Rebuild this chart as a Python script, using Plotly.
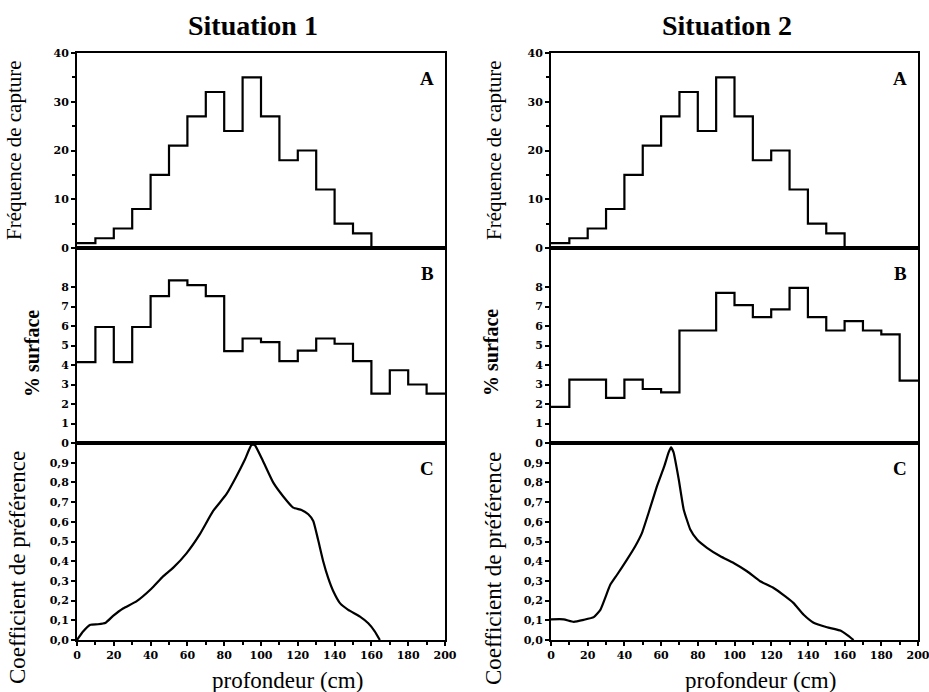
import plotly.graph_objects as go

# ---------------- data ----------------
depth_edges = list(range(0, 201, 10))
capture_freq = [1, 2, 4, 8, 15, 21, 27, 32, 24, 35, 27, 18, 20, 12, 5, 3, 0, 0, 0, 0]
surface_s1 = [4.15, 5.95, 4.15, 5.95, 7.53, 8.34, 8.1, 7.53, 4.71, 5.36,
              5.17, 4.2, 4.74, 5.36, 5.09, 4.2, 2.53, 3.73, 3.0, 2.53]
surface_s2 = [1.85, 3.25, 3.25, 2.31, 3.25, 2.77, 2.6, 5.77, 5.77, 7.7,
              7.07, 6.46, 6.85, 7.96, 6.46, 5.77, 6.25, 5.77, 5.57, 3.2]
pref_s1_depth = [0, 3.3, 7.3, 11.4, 15.6, 19.6, 25, 32.3, 40.4, 46.8, 52.2, 59.5, 66.7, 74,
                 81.2, 86.6, 91.2, 94.8, 96.6, 101, 106.6, 112, 117.5, 122, 125.7, 128.4,
                 131, 133.8, 136.5, 139.3, 142.9, 147.4, 153.8, 158.3, 161.9, 164.6]
pref_s1_value = [0, 0.043, 0.077, 0.08, 0.088, 0.122, 0.16, 0.196, 0.26, 0.323, 0.366, 0.44,
                 0.536, 0.655, 0.74, 0.83, 0.915, 0.99, 0.99, 0.91, 0.8, 0.73, 0.672, 0.66,
                 0.638, 0.604, 0.51, 0.40, 0.315, 0.247, 0.187, 0.153, 0.119, 0.085, 0.043,
                 0.0]
pref_s2_depth = [0, 6.9, 12.4, 17.8, 23.3, 26.9, 32.3, 35.9, 41.4, 45.9, 49.6, 53.2, 57.8,
                 61.8, 64.1, 65.4, 66.8, 69.6, 72.3, 75.9, 79.6, 85, 92.3, 99.5, 106.8, 114,
                 121.3, 127.7, 132.2, 137.7, 143.1, 150.4, 157.7, 161.3, 164.9]
pref_s2_value = [0.105, 0.105, 0.092, 0.102, 0.116, 0.153, 0.28, 0.33, 0.408, 0.476, 0.544,
                 0.646, 0.782, 0.884, 0.952, 0.978, 0.952, 0.816, 0.663, 0.561, 0.51, 0.468,
                 0.425, 0.391, 0.349, 0.298, 0.264, 0.221, 0.187, 0.128, 0.088, 0.065, 0.048,
                 0.026, 0.0]

freq_ticks = [0, 10, 20, 30, 40]
surf_ticks = [0, 1, 2, 3, 4, 5, 6, 7, 8]
coef_ticks = [0, 0.1, 0.2, 0.3, 0.4, 0.5, 0.6, 0.7, 0.8, 0.9]
coef_ticktext = ["0,0", "0,1", "0,2", "0,3", "0,4", "0,5", "0,6", "0,7", "0,8", "0,9"]
depth_ticks = list(range(0, 201, 20))

titles = ["Situation 1", "Situation 2"]
panel_letters = ["A", "B", "C"]
ytitles = ["Fréquence de capture", "% surface", "Coefficient de préférence"]
xtitle = "profondeur (cm)"

# ---------------- layout geometry ----------------
W, H = 929, 692
def fx(px):
    return px / W
def fy(py):
    return 1 - py / H

col_x = [(77, 445), (551, 918)]
row_y = [(53, 248), (248, 443), (443, 640)]
# y-title horizontal centres (px) per column / row
ytitle_x = [[14, 32, 17], [494, 491, 493]]
ytitle_size = [21, 20, 23]
ytitle_weight = ["normal", "bold", "normal"]
ytitle_y = [150, 353, 568]

fig = go.Figure()
serif = "Liberation Serif"
tickfont = dict(family="DejaVu Serif", size=11, color="black", weight="bold")

def step_xy(vals):
    return depth_edges[:-1] + [depth_edges[-1]], vals + [vals[-1]]

series = [
    [step_xy(capture_freq), step_xy(surface_s1), (pref_s1_depth, pref_s1_value)],
    [step_xy(capture_freq), step_xy(surface_s2), (pref_s2_depth, pref_s2_value)],
]

layout = dict(
    width=W, height=H, margin=dict(l=0, r=0, t=0, b=0, autoexpand=False),
    paper_bgcolor="white", plot_bgcolor="white", showlegend=False,
    template="none",
)
annotations = []

idx = 0
for c in range(2):
    for r in range(3):
        idx += 1
        sfx = "" if idx == 1 else str(idx)
        xs, ys = series[c][r]
        fig.add_trace(go.Scatter(
            x=xs, y=ys, mode="lines",
            line=dict(color="black", width=2.2, shape="hv" if r < 2 else "spline", smoothing=0.4),
            xaxis="x" + sfx, yaxis="y" + sfx, hoverinfo="skip"))
        xa = dict(domain=[fx(col_x[c][0]), fx(col_x[c][1])], range=[0, 200],
                  anchor="y" + sfx, showgrid=False, zeroline=False, automargin=False,
                  showline=True, linecolor="black", linewidth=2, mirror=True,
                  fixedrange=True, ticklabeloverflow="allow")
        if r == 2:
            xa.update(tickmode="array", tickvals=depth_ticks, ticks="outside",
                      ticklen=4, tickwidth=2, tickcolor="black", tickfont=tickfont,
                      minor=dict(tickvals=list(range(10, 200, 20)), ticks="outside",
                                 ticklen=3, tickwidth=1.5, tickcolor="black"))
        else:
            xa.update(showticklabels=False, ticks="")
        ya = dict(domain=[fy(row_y[r][1]), fy(row_y[r][0])], anchor="x" + sfx,
                  showgrid=False, zeroline=False, showline=True, linecolor="black",
                  linewidth=2, mirror=True, ticks="outside", ticklen=4, tickwidth=2,
                  tickcolor="black", tickfont=tickfont, fixedrange=True, automargin=False,
                  ticklabeloverflow="allow")
        if r == 0:
            ya.update(range=[0, 40], tickvals=freq_ticks,
                      minor=dict(tickvals=[5, 15, 25, 35], ticks="outside", ticklen=3,
                                 tickwidth=1.5, tickcolor="black"))
        elif r == 1:
            ya.update(range=[0, 10], tickvals=surf_ticks)
        else:
            ya.update(range=[0, 1], tickvals=coef_ticks, ticktext=coef_ticktext)
        layout["xaxis" + sfx] = xa
        layout["yaxis" + sfx] = ya

        # panel letter
        annotations.append(dict(
            text=panel_letters[r], xref="paper", yref="paper",
            x=fx(col_x[c][1] - 18), y=fy(row_y[r][0] + 25),
            xanchor="center", yanchor="middle",
            showarrow=False, font=dict(family=serif, size=19, color="black", weight="bold")))
        # y-axis title
        annotations.append(dict(
            text=ytitles[r], xref="paper", yref="paper", textangle=-90,
            x=fx(ytitle_x[c][r]), y=fy(ytitle_y[r]),
            xanchor="center", yanchor="middle", showarrow=False,
            font=dict(family=serif, size=ytitle_size[r], color="black",
                      weight=ytitle_weight[r])))
    # column title
    annotations.append(dict(
        text=titles[c], xref="paper", yref="paper",
        x=fx((col_x[c][0] + col_x[c][1]) / 2 - 8), y=fy(25),
        xanchor="center", yanchor="middle",
        showarrow=False, font=dict(family=serif, size=28, color="black", weight="bold")))
    # x title
    annotations.append(dict(
        text=xtitle, xref="paper", yref="paper",
        x=fx((col_x[c][0] + col_x[c][1]) / 2 + 26), y=fy(680),
        xanchor="center", yanchor="middle",
        showarrow=False, font=dict(family=serif, size=23, color="black")))

layout["annotations"] = annotations
fig.update_layout(**layout)
fig.write_html("out.html", config={"displayModeBar": False},
               post_script="document.body.style.margin='0';")
